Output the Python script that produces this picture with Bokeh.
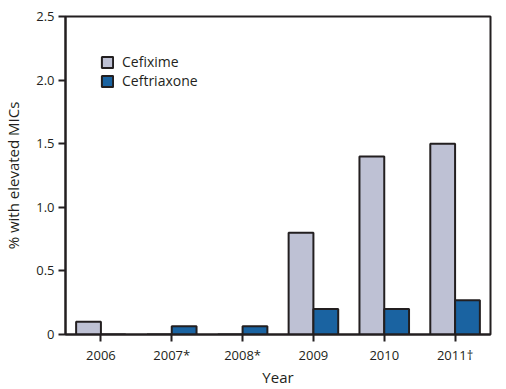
from bokeh.plotting import figure
from bokeh.models import ColumnDataSource, FactorRange, Range1d, FixedTicker, Legend, LegendItem
from bokeh.transform import dodge
from bokeh.embed import file_html
from bokeh.resources import INLINE

years = ["2006", "2007*", "2008*", "2009", "2010", "2011\u2020"]
cefixime = [0.1, 0.0, 0.0, 0.8, 1.4, 1.5]
ceftriaxone = [0.0, 0.065, 0.065, 0.2, 0.2, 0.27]
y_ticks = [0, 0.5, 1.0, 1.5, 2.0, 2.5]
y_tick_labels = ["0", "0.5", "1.0", "1.5", "2.0", "2.5"]

DARK = "#231F20"
FONT = "Open Sans"

src = ColumnDataSource(dict(year=years, cefixime=cefixime, ceftriaxone=ceftriaxone))

p = figure(x_range=FactorRange(*years), y_range=Range1d(0, 2.5),
           frame_width=425, frame_height=318,
           min_border_left=57, min_border_right=8, min_border_top=16, min_border_bottom=39,
           output_backend="svg", toolbar_location=None)

r1 = p.vbar(x=dodge("year", -0.175, range=p.x_range), top="cefixime", width=0.35, source=src,
            fill_color="#BEC1D4", line_color=DARK, line_width=2)
r2 = p.vbar(x=dodge("year", 0.175, range=p.x_range), top="ceftriaxone", width=0.35, source=src,
            fill_color="#1A63A1", line_color=DARK, line_width=2)

legend = Legend(items=[LegendItem(label="Cefixime", renderers=[r1]),
                       LegendItem(label="Ceftriaxone", renderers=[r2])],
                location=(35, 244), orientation="vertical")
legend.background_fill_alpha = 0
legend.border_line_alpha = 0
legend.padding = 0
legend.margin = 0
legend.spacing = 0
legend.glyph_width = 14
legend.glyph_height = 14
legend.label_height = 14
legend.label_standoff = 8
legend.label_text_font = FONT
legend.label_text_font_size = "14px"
legend.label_text_color = DARK
legend.label_text_baseline = "middle"
p.add_layout(legend, "center")

p.grid.visible = False
p.outline_line_color = DARK
p.outline_line_width = 2
p.outline_line_alpha = 1
p.background_fill_color = "white"
p.border_fill_color = "white"

for ax in (p.xaxis[0], p.yaxis[0]):
    ax.axis_line_color = DARK
    ax.axis_line_width = 2
    ax.major_tick_line_color = DARK
    ax.major_tick_line_width = 2
    ax.major_tick_out = 7
    ax.major_tick_in = 0
    ax.minor_tick_line_color = None
    ax.major_label_text_font = FONT
    ax.major_label_text_font_size = "13px"
    ax.major_label_text_color = DARK
    ax.axis_label_text_font = FONT
    ax.axis_label_text_font_size = "15px"
    ax.axis_label_text_font_style = "normal"
    ax.axis_label_text_color = DARK

p.yaxis[0].ticker = FixedTicker(ticks=y_ticks)
p.yaxis[0].major_label_overrides = {t: l for t, l in zip(y_ticks, y_tick_labels)}
p.yaxis[0].axis_label = "% with elevated MICs"
p.yaxis[0].major_label_standoff = 4
p.yaxis[0].axis_label_standoff = 10
p.xaxis[0].axis_label = "Year"
p.xaxis[0].major_label_standoff = 4
p.xaxis[0].axis_label_standoff = 0

open("out.html", "w").write(file_html(p, INLINE))
